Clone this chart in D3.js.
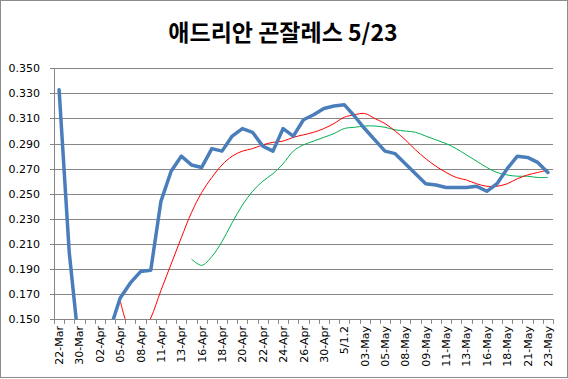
<!DOCTYPE html>
<html><head><meta charset="utf-8">
<script src="https://cdn.jsdelivr.net/npm/d3@7"></script>
<style>body{margin:0;background:#fff}svg{display:block}</style>
</head><body>
<svg id="c" width="568" height="379"></svg>
<script>
const title = "애드리안 곤잘레스 5/23";
const categories = ["22-Mar","26-Mar","30-Mar","01-Apr","02-Apr","03-Apr","05-Apr","06-Apr","08-Apr","09-Apr",
 "11-Apr","12-Apr","13-Apr","15-Apr","16-Apr","17-Apr","18-Apr","19-Apr","20-Apr","21-Apr",
 "22-Apr","23-Apr","24-Apr","25-Apr","26-Apr","28-Apr","30-Apr","5/1.1","5/1.2","02-May",
 "03-May","04-May","05-May","07-May","08-May","5/8.2","09-May","10-May","11-May","12-May",
 "13-May","14-May","16-May","17-May","18-May","19-May","21-May","22-May","23-May"];
const seasonAvg = [0.333,0.203,0.125,0.111,0.125,0.142,0.167,0.179,0.188,0.189,
 0.244,0.268,0.280,0.273,0.271,0.286,0.284,0.296,0.302,0.299,
 0.288,0.284,0.302,0.296,0.309,0.313,0.318,0.320,0.321,0.312,
 0.302,0.293,0.284,0.282,0.274,0.266,0.258,0.257,0.255,0.255,
 0.255,0.256,0.252,0.258,0.270,0.280,0.279,0.275,0.267];
const avgRed = [null,null,null,null,null,null,0.165,0.141,0.137,0.151,
 0.173,0.194,0.215,0.235,0.251,0.263,0.273,0.280,0.284,0.286,
 0.289,0.291,0.292,0.295,0.297,0.299,0.302,0.306,0.311,0.313,
 0.314,0.310,0.306,0.300,0.293,0.285,0.278,0.272,0.267,0.263,
 0.261,0.258,0.256,0.256,0.258,0.262,0.265,0.267,0.269];
const avgGreen = [null,null,null,null,null,null,null,null,null,null,
 null,null,null,0.198,0.193,0.200,0.212,0.227,0.241,0.252,
 0.260,0.266,0.274,0.284,0.289,0.292,0.295,0.298,0.302,0.303,
 0.304,0.304,0.303,0.301,0.300,0.299,0.296,0.293,0.290,0.286,
 0.281,0.276,0.271,0.267,0.265,0.264,0.264,0.263,0.263];
const yTicks = [0.150,0.170,0.190,0.210,0.230,0.250,0.270,0.290,0.310,0.330,0.350];

const svg = d3.select("#c");
const L = 54, R = 553, T = 68.3, B = 319.3;
const x = d3.scaleBand().domain(categories).range([L, R]).padding(0);
const y = d3.scaleLinear().domain([0.150, 0.350]).range([B, T]);

svg.append("rect").attr("x",0.5).attr("y",0.5).attr("width",567).attr("height",377)
  .attr("fill","#fff").attr("stroke","#8c8c8c");

svg.append("text").attr("x",283).attr("y",41).attr("text-anchor","middle")
  .attr("font-family","'Noto Sans CJK KR', sans-serif").attr("font-weight","bold")
  .attr("font-size",23).text(title);

// gridlines
svg.append("g").selectAll("line").data(yTicks).join("line")
  .attr("x1",L-4).attr("x2",R).attr("y1",d=>Math.round(y(d))+0.5).attr("y2",d=>Math.round(y(d))+0.5)
  .attr("stroke","#868686").attr("stroke-width",1);

// y axis line
svg.append("line").attr("x1",L+0.5).attr("x2",L+0.5).attr("y1",T).attr("y2",B+0.5)
  .attr("stroke","#868686");

// y labels
svg.append("g").selectAll("text").data(yTicks).join("text")
  .attr("x",40).attr("y",d=>y(d)).attr("dy","0.36em").attr("text-anchor","end")
  .attr("font-family","'DejaVu Sans', Verdana, sans-serif").attr("font-size",11)
  .attr("fill","#000").text(d=>d3.format(".3f")(d));

// x ticks (between categories)
const bounds = categories.map(c=>x(c)).concat([R]);
svg.append("g").selectAll("line").data(bounds).join("line")
  .attr("x1",d=>Math.round(d)+0.5).attr("x2",d=>Math.round(d)+0.5)
  .attr("y1",B).attr("y2",B+4.5).attr("stroke","#868686");

// x labels
svg.append("g").selectAll("text").data(categories.filter((c,i)=>i%2===0)).join("text")
  .attr("transform",d=>`translate(${x(d)+x.bandwidth()/2+4},326) rotate(-90)`)
  .attr("text-anchor","end")
  .attr("font-family","'DejaVu Sans', Verdana, sans-serif").attr("font-size",11)
  .attr("fill","#000").text(d=>d);

// clip
svg.append("clipPath").attr("id","pc").append("rect")
  .attr("x",L).attr("y",T-5).attr("width",R-L+3).attr("height",B-T+5);

const cx = (d,i)=>x(categories[i])+x.bandwidth()/2;
const lineSmooth = d3.line().defined(d=>d!==null).x(cx).y(d=>y(d)).curve(d3.curveCatmullRom.alpha(0.5));
const lineStraight = d3.line().x(cx).y(d=>y(d));

const g = svg.append("g").attr("clip-path","url(#pc)");
g.append("path").attr("d",lineSmooth(avgGreen)).attr("fill","none").attr("stroke","#00b050").attr("stroke-width",1);
g.append("path").attr("d",lineSmooth(avgRed)).attr("fill","none").attr("stroke","#ff0000").attr("stroke-width",1);
g.append("path").attr("d",lineStraight(seasonAvg)).attr("fill","none").attr("stroke","#4a7ebb")
  .attr("stroke-width",3.5).attr("stroke-linejoin","round").attr("stroke-linecap","round");
</script>
</body></html>
